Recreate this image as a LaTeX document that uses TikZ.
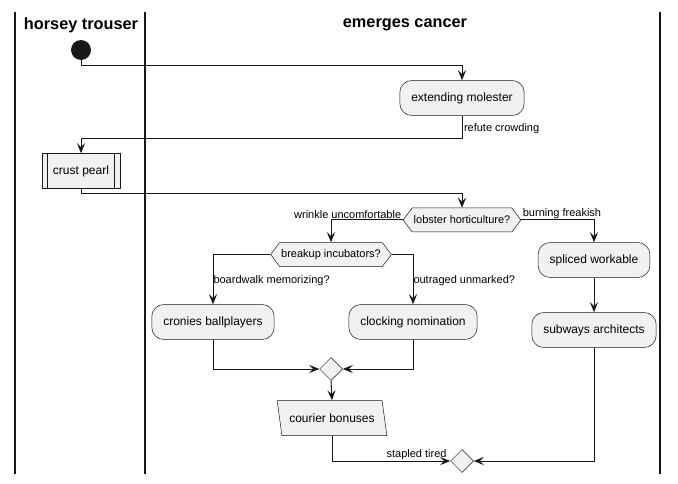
\documentclass[tikz,border=0pt]{standalone}
\usepackage{fontspec}
\setmainfont{Liberation Sans}
\usetikzlibrary{arrows.meta,shapes.geometric,shapes.symbols}
\definecolor{boxfill}{HTML}{F1F1F1}
\definecolor{ink}{HTML}{181818}
\begin{document}
\begin{tikzpicture}[x=1pt,y=-1pt,
    >={Stealth[length=10pt,width=8pt,inset=4pt]},
    flow/.style={->,draw=ink,line width=1pt},
    lane/.style={draw=ink,line width=1.5pt},
    lanetitle/.style={font=\fontsize{16.3}{18}\selectfont\bfseries},
    act/.style={draw=ink,line width=0.5pt,fill=boxfill,rounded corners=12pt,
        minimum height=35pt,inner xsep=11.5pt,font=\fontsize{12}{14}\selectfont},
    subact/.style={act,rounded corners=0pt,inner xsep=11pt},
    ask/.style={signal,signal to=east and west,signal pointer angle=106,
        draw=ink,line width=0.5pt,fill=boxfill,minimum height=24pt,
        inner xsep=1.5pt,font=\fontsize{11}{13}\selectfont},
    merge/.style={diamond,draw=ink,line width=0.5pt,fill=boxfill,
        minimum size=23pt,inner sep=0pt},
    lab/.style={font=\fontsize{11}{13}\selectfont,inner sep=1.5pt}]
\useasboundingbox (0,0) rectangle (678,484);

% swimlanes
\draw[lane] (15,12) -- (15,474);
\draw[lane] (145,12) -- (145,474);
\draw[lane] (660,12) -- (660,474);
\node[lanetitle] (t1) at (81,25) {horsey trouser};
\node[lanetitle] (t2) at (405,25) {emerges cancer};

% activities
\node[circle,fill=ink,minimum size=20pt,inner sep=0pt] (start) at (81,50) {};
\node[act] (em) at (462,98) {extending molester};
\node[subact] (cp) at (81,171) {crust pearl};
\draw[ink,line width=0.5pt] ([xshift=6pt]cp.north west) -- ([xshift=6pt]cp.south west);
\draw[ink,line width=0.5pt] ([xshift=-6pt]cp.north east) -- ([xshift=-6pt]cp.south east);
\node[ask] (lh) at (462,220) {lobster horticulture?};
\node[ask] (bi) at (331,254.5) {breakup incubators?};
\node[act] (cb1) at (213,322) {cronies ballplayers};
\node[act] (cn) at (413,322) {clocking nomination};
\node[merge] (m1) at (331,369) {};
\node[trapezium,trapezium left angle=106,trapezium right angle=74,
    trapezium stretches=true,minimum width=110pt,minimum height=35pt,
    draw=ink,line width=0.5pt,fill=boxfill,font=\fontsize{12}{14}\selectfont] (cb2) at (332,418) {courier bonuses};
\node[act] (sw) at (594,260) {spliced workable};
\node[act] (sa) at (594,330) {subways architects};
\node[merge] (m2) at (462,461) {};

% connectors
\draw[flow] (start.south) -- ++(0,5) -| (em.north);
\draw[flow] (em.south) -- ++(0,23) node[lab,pos=0.56,right] {refute crowding} -| (cp.north);
\draw[flow] (cp.south) -- ++(0,5) -| (lh.north);
\draw[flow] (lh.west) -| (bi.north);
\node[lab,anchor=south east] at (lh.west) {wrinkle uncomfortable};
\draw[flow] (lh.east) -| (sw.north);
\node[lab,anchor=south west] at (lh.east) {burning freakish};
\draw[flow] (bi.west) -| (cb1.north) node[lab,pos=0.76,anchor=west,inner sep=0pt] {boardwalk memorizing?};
\draw[flow] (bi.east) -| (cn.north) node[lab,pos=0.76,anchor=west,inner sep=0pt] {outraged unmarked?};
\draw[flow] (cb1.south) |- (m1.west);
\draw[flow] (cn.south) |- (m1.east);
\draw[flow] (m1.south) -- (cb2.north);
\draw[flow] (cb2.south) |- (m2.west);
\node[lab,anchor=south east] at ([xshift=-2pt]m2.west) {stapled tired};
\draw[flow] (sw.south) -- (sa.north);
\draw[flow] (sa.south) |- (m2.east);
\end{tikzpicture}
\end{document}
